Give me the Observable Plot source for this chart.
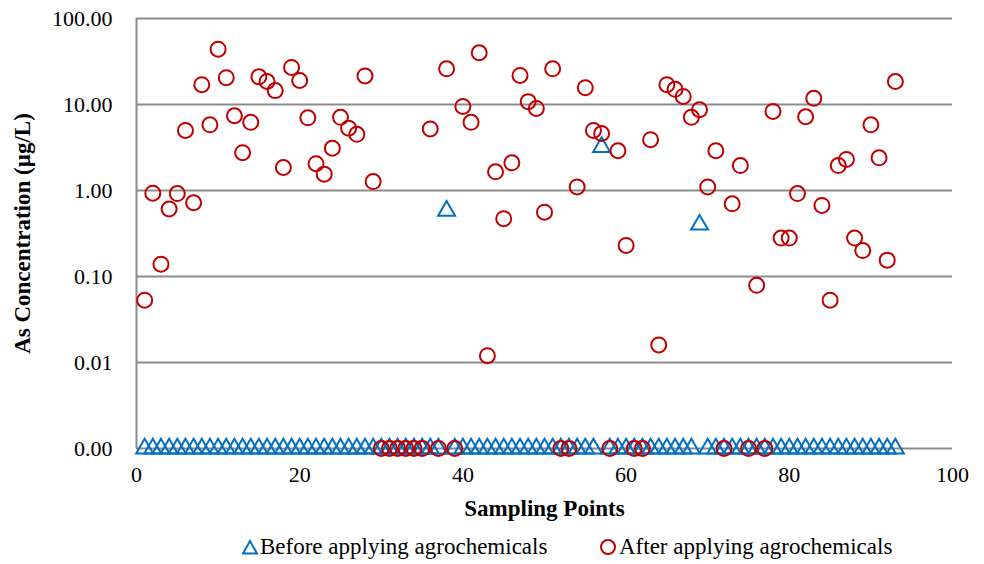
<!DOCTYPE html>
<html>
<head>
<meta charset="utf-8">
<script src="https://cdn.jsdelivr.net/npm/d3@7"></script>
<script src="https://cdn.jsdelivr.net/npm/@observablehq/plot@0.6"></script>
<style>
  body { margin: 0; background: #fff; font-family: "Liberation Serif", "Times New Roman", serif; }
  #chart svg { display: block; }
  g[aria-label="y-axis label"] text, g[aria-label="x-axis label"] text { font-weight: bold; font-size: 23px; }
  .legend { height: 34px; font-size: 23px; color: #000; position: relative; }
  .item { position: absolute; display: flex; align-items: center; top: 0; height: 34px; white-space: nowrap; }
  .item svg { margin-right: 2px; }
</style>
</head>
<body>
<div id="chart"></div>
<div class="legend">
  <div class="item" style="left:242px"><svg width="16" height="16" viewBox="0 0 16 16"><path d="M8,2 L15,14.5 L1,14.5 Z" fill="none" stroke="#0070C0" stroke-width="2"/></svg><span>Before applying agrochemicals</span></div>
  <div class="item" style="left:599px"><svg width="18" height="18" viewBox="0 0 18 18"><circle cx="9" cy="9" r="7" fill="none" stroke="#C00000" stroke-width="2"/></svg><span>After applying agrochemicals</span></div>
</div>
<script>
const samplingPoints = [1,2,3,4,5,6,7,8,9,10,11,12,13,14,15,16,17,18,19,20,21,22,23,24,25,26,27,28,29,30,31,32,33,34,35,36,37,38,39,40,41,42,43,44,45,46,47,48,49,50,51,52,53,54,55,56,57,58,59,60,61,62,63,64,65,66,67,68,69,70,71,72,73,74,75,76,77,78,79,80,81,82,83,84,85,86,87,88,89,90,91,92,93];

// 0.001 = below detection, shown as "0.00"
const beforeValues = [0.001,0.001,0.001,0.001,0.001,0.001,0.001,0.001,0.001,0.001,0.001,0.001,0.001,0.001,0.001,0.001,0.001,0.001,0.001,0.001,0.001,0.001,0.001,0.001,0.001,0.001,0.001,0.001,0.001,0.001,0.001,0.001,0.001,0.001,0.001,0.001,0.001,0.58,0.001,0.001,0.001,0.001,0.001,0.001,0.001,0.001,0.001,0.001,0.001,0.001,0.001,0.001,0.001,0.001,0.001,0.001,3.2,0.001,0.001,0.001,0.001,0.001,0.001,0.001,0.001,0.001,0.001,0.001,0.40,0.001,0.001,0.001,0.001,0.001,0.001,0.001,0.001,0.001,0.001,0.001,0.001,0.001,0.001,0.001,0.001,0.001,0.001,0.001,0.001,0.001,0.001,0.001,0.001];

const afterValues = [0.053,0.93,0.139,0.61,0.92,5.0,0.72,17,5.8,44,20.5,7.4,2.75,6.2,21,18.5,14.5,1.85,27,19,7.0,2.05,1.55,3.1,7.1,5.3,4.5,21.5,1.27,0.001,0.001,0.001,0.001,0.001,0.001,5.2,0.001,26,0.001,9.5,6.2,40,0.012,1.65,0.47,2.1,21.8,10.8,9.0,0.56,26,0.001,0.001,1.1,15.7,5.0,4.6,0.001,2.9,0.23,0.001,0.001,3.9,0.016,17,15,12.4,7.1,8.7,1.1,2.9,0.001,0.7,1.95,0.001,0.079,0.001,8.3,0.28,0.28,0.92,7.2,11.8,0.67,0.053,1.95,2.3,0.28,0.2,5.8,2.4,0.155,18.5];

const yTicks = [0.001, 0.01, 0.1, 1, 10, 100];
const xTicks = [0, 20, 40, 60, 80, 100];

const before = samplingPoints.map((p, i) => ({x: p, y: beforeValues[i]}));
const after = samplingPoints.map((p, i) => ({x: p, y: afterValues[i]}));

const grid = "#8c8c8c";

const chart = Plot.plot({
  width: 984,
  height: 530,
  marginLeft: 136,
  marginRight: 32,
  marginTop: 18,
  marginBottom: 82,
  style: { fontFamily: "'Liberation Serif', 'Times New Roman', serif", fontSize: "22px", color: "#000", background: "#fff" },
  x: { domain: [0, 100] },
  y: { type: "log", domain: [0.001, 100] },
  marks: [
    Plot.ruleY(yTicks, { stroke: grid, strokeWidth: 2 }),
    Plot.ruleX([0], { y1: 0.001, y2: 100, stroke: grid, strokeWidth: 2 }),
    Plot.axisY({ ticks: yTicks, tickSize: 0, tickPadding: 24, tickFormat: d => d.toFixed(2), fontSize: 22,
      label: "As Concentration (µg/L)", labelArrow: "none", labelAnchor: "center", labelOffset: 123, fill: "#000" }),
    Plot.axisX({ ticks: xTicks, tickSize: 0, tickPadding: 18, tickFormat: d => String(d), fontSize: 22,
      label: "Sampling Points", labelArrow: "none", labelAnchor: "center", labelOffset: 67, fill: "#000" }),
    Plot.dot(before, { x: "x", y: "y", symbol: "triangle", r: 6.3, stroke: "#0070C0", strokeWidth: 2, fill: "none" }),
    Plot.dot(after, { x: "x", y: "y", symbol: "circle", r: 7.5, stroke: "#C00000", strokeWidth: 2, fill: "none" })
  ]
});
// strip any automatic arrow from axis labels
chart.querySelectorAll('g[aria-label$="axis label"] text').forEach(t => {
  t.textContent = t.textContent.replace(/\s*[→←↑↓]\s*/g, "").trim();
});
document.getElementById("chart").append(chart);
</script>
</body>
</html>
